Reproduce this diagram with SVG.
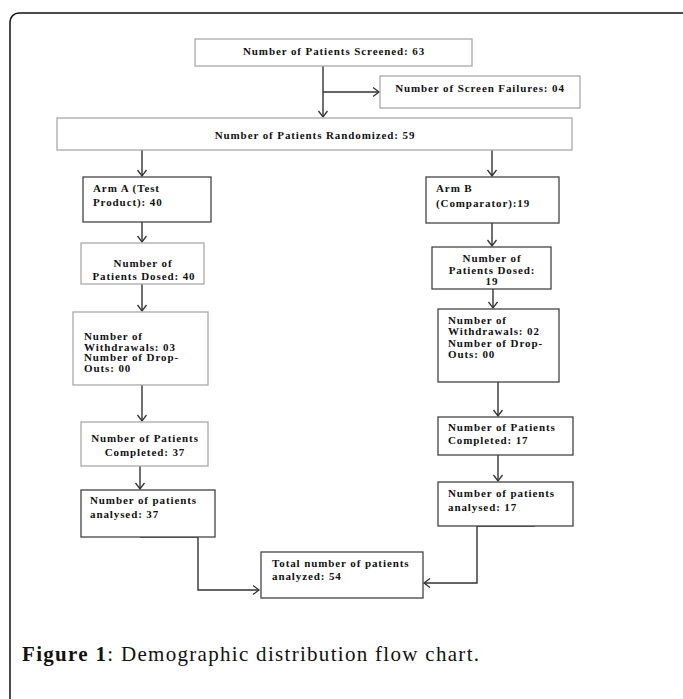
<svg xmlns="http://www.w3.org/2000/svg" width="683" height="699" viewBox="0 0 683 699">
<defs>
<style>
.frame{fill:none;stroke:#111;stroke-width:1.5}
.bl{fill:#fff;stroke:#aaa;stroke-width:1.3}
.bd{fill:#fff;stroke:#444;stroke-width:1.3}
.t{font-family:"Liberation Serif","Times New Roman",serif;font-weight:bold;font-size:11px;letter-spacing:0.9px;fill:#111}
.c{text-anchor:middle}
.cn{fill:none;stroke:#333;stroke-width:1.4}
.cap{font-family:"Liberation Serif","Times New Roman",serif;font-size:21px;letter-spacing:1.3px;fill:#111}
</style>
<marker id="ar" markerUnits="userSpaceOnUse" markerWidth="12" markerHeight="12" refX="7" refY="5" orient="auto">
<path d="M1,0.5 L7,5 L1,9.5" fill="none" stroke="#333" stroke-width="1.3"/>
</marker>
</defs>
<rect width="683" height="699" fill="#fff"/>
<rect class="frame" x="10" y="13" width="700" height="720" rx="9" ry="9"/>

<g id="connectors">
<line class="cn" x1="323" y1="66" x2="323" y2="117" marker-end="url(#ar)"/>
<line class="cn" x1="323" y1="92" x2="379" y2="92" marker-end="url(#ar)"/>
<line class="cn" x1="142" y1="150" x2="142" y2="176" marker-end="url(#ar)"/>
<line class="cn" x1="492" y1="150" x2="492" y2="176" marker-end="url(#ar)"/>
<line class="cn" x1="142" y1="222" x2="142" y2="242" marker-end="url(#ar)"/>
<line class="cn" x1="142" y1="284" x2="142" y2="311" marker-end="url(#ar)"/>
<line class="cn" x1="142" y1="385" x2="142" y2="421" marker-end="url(#ar)"/>
<line class="cn" x1="140" y1="466" x2="140" y2="489" marker-end="url(#ar)"/>
<line class="cn" x1="492" y1="223" x2="492" y2="246" marker-end="url(#ar)"/>
<line class="cn" x1="493" y1="289" x2="493" y2="308" marker-end="url(#ar)"/>
<line class="cn" x1="498" y1="382" x2="498" y2="416" marker-end="url(#ar)"/>
<line class="cn" x1="498" y1="455" x2="498" y2="481" marker-end="url(#ar)"/>
<path class="cn" d="M140,537 H198 V590 H259" marker-end="url(#ar)"/>
<path class="cn" d="M535,526 H477 V583 H424" marker-end="url(#ar)"/>
</g>

<g id="screened">
<rect class="bl" x="195" y="39" width="277" height="27"/>
<text class="t c" x="334" y="55">Number of Patients Screened: 63</text>
</g>
<g id="failures">
<rect class="bl" x="380" y="76" width="200" height="32"/>
<text class="t c" x="480" y="92">Number of Screen Failures: 04</text>
</g>
<g id="randomized">
<rect class="bl" x="57" y="118" width="515" height="32"/>
<text class="t c" x="315" y="139">Number of Patients Randomized: 59</text>
</g>

<g id="armA">
<rect class="bd" x="83" y="177" width="128" height="45"/>
<text class="t" x="93" y="191.5">Arm A (Test</text>
<text class="t" x="93" y="205.5">Product): 40</text>
</g>
<g id="dosedA">
<rect class="bl" x="81" y="243" width="123" height="41"/>
<text class="t c" x="143" y="266.5">Number of</text>
<text class="t c" x="144" y="279.5">Patients Dosed: 40</text>
</g>
<g id="withdrawalsA">
<rect class="bl" x="73" y="312" width="135" height="73"/>
<text class="t" x="84" y="340">Number of</text>
<text class="t" x="84" y="350.5">Withdrawals: 03</text>
<text class="t" x="84" y="361">Number of Drop-</text>
<text class="t" x="84" y="371.5">Outs: 00</text>
</g>
<g id="completedA">
<rect class="bl" x="81" y="422" width="127" height="44"/>
<text class="t c" x="145" y="441.5">Number of Patients</text>
<text class="t c" x="145" y="455.5">Completed: 37</text>
</g>
<g id="analysedA">
<rect class="bd" x="81" y="490" width="134" height="47"/>
<text class="t" x="90" y="504">Number of patients</text>
<text class="t" x="90" y="517.5">analysed: 37</text>
</g>

<g id="armB">
<rect class="bd" x="426" y="177" width="133" height="46"/>
<text class="t" x="436" y="191.5">Arm B</text>
<text class="t" x="436" y="206.5">(Comparator):19</text>
</g>
<g id="dosedB">
<rect class="bd" x="432" y="247" width="119" height="42"/>
<text class="t c" x="492" y="261.5">Number of</text>
<text class="t c" x="492" y="273.5">Patients Dosed:</text>
<text class="t c" x="492" y="284.5">19</text>
</g>
<g id="withdrawalsB">
<rect class="bd" x="438" y="309" width="121" height="73"/>
<text class="t" x="448" y="323.5">Number of</text>
<text class="t" x="448" y="335">Withdrawals: 02</text>
<text class="t" x="448" y="346.5">Number of Drop-</text>
<text class="t" x="448" y="358">Outs: 00</text>
</g>
<g id="completedB">
<rect class="bd" x="438" y="417" width="135" height="38"/>
<text class="t" x="448" y="430.5">Number of Patients</text>
<text class="t" x="448" y="443.5">Completed: 17</text>
</g>
<g id="analysedB">
<rect class="bd" x="438" y="482" width="135" height="44"/>
<text class="t" x="448" y="496.5">Number of patients</text>
<text class="t" x="448" y="510.5">analysed: 17</text>
</g>

<g id="total">
<rect class="bd" x="261" y="552" width="162" height="46"/>
<text class="t" x="272" y="566.5">Total number of patients</text>
<text class="t" x="272" y="580">analyzed: 54</text>
</g>

<text class="cap" x="22" y="661"><tspan font-weight="bold">Figure 1</tspan>: Demographic distribution flow chart.</text>
</svg>
